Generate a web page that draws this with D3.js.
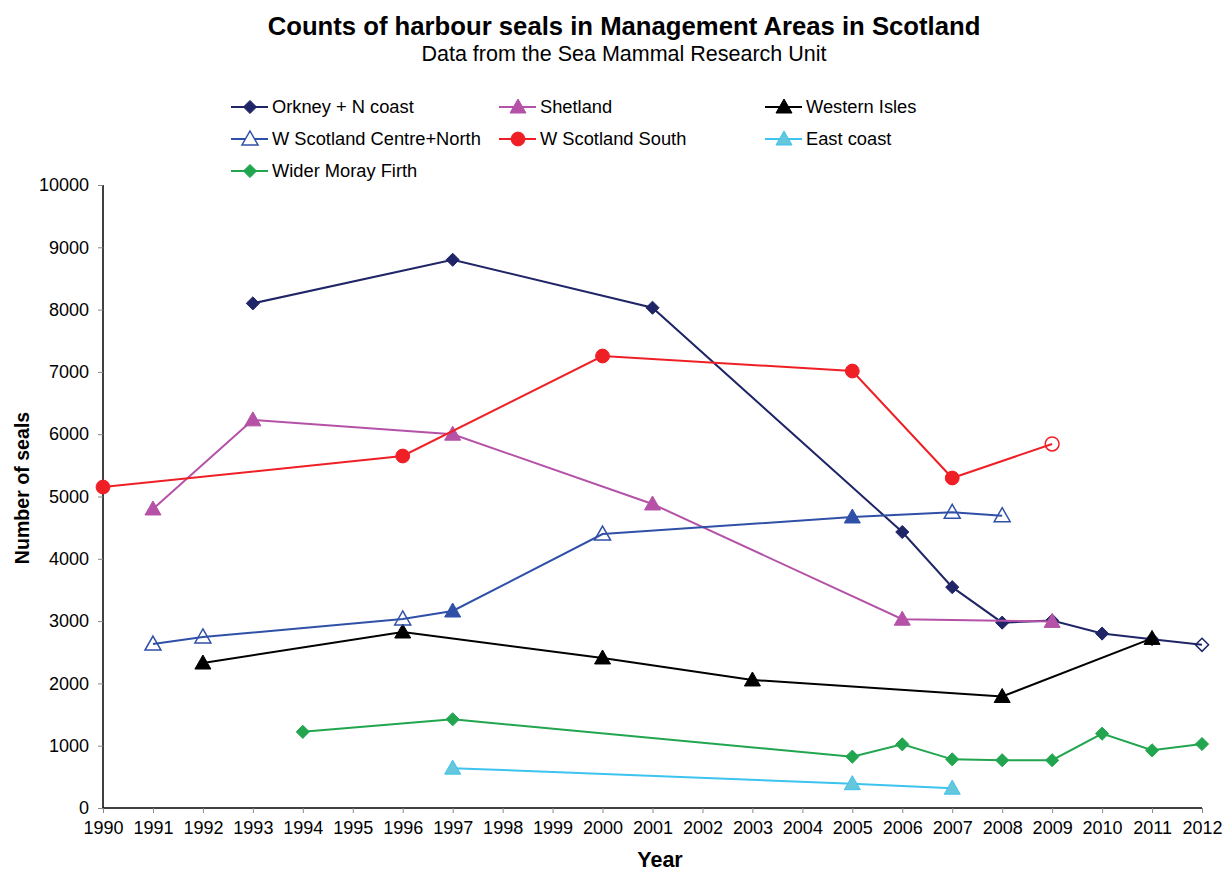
<!DOCTYPE html>
<html><head><meta charset="utf-8">
<script src="https://cdn.jsdelivr.net/npm/d3@7"></script>
<style>body{margin:0;background:#fff;} text{font-family:"Liberation Sans",Arial,sans-serif;}</style>
</head><body><svg id="c" width="1231" height="871"></svg>
<script>
const years = d3.range(1990, 2013);
const yTicks = [0,1000,2000,3000,4000,5000,6000,7000,8000,9000,10000];

const orkneyYears = [1993,1997,2001,2006,2007,2008,2009,2010,2011,2012];
const orkneyVals  = [8100,8800,8030,4430,3545,2975,3010,2800,2710,2620];
const orkneyHollow = [2012];

const shetlandYears = [1991,1993,1997,2001,2006,2009];
const shetlandVals  = [4800,6230,6000,4880,3030,2995];

const westernYears = [1992,1996,2000,2003,2008,2011];
const westernVals  = [2327,2825,2408,2055,1790,2722];

const wcnYears = [1991,1992,1996,1997,2000,2005,2007,2008];
const wcnVals  = [2632,2745,3034,3162,4398,4671,4746,4692];
const wcnFilled = [1997,2005];

const wsYears = [1990,1996,2000,2005,2007,2009];
const wsVals  = [5152,5650,7255,7014,5297,5843];
const wsHollow = [2009];

const eastYears = [1997,2005,2007];
const eastVals  = [640,390,318];

const morayYears = [1994,1997,2005,2006,2007,2008,2009,2010,2011,2012];
const morayVals  = [1222,1424,824,1022,781,767,767,1193,926,1027];

const series = [
  {name:"Orkney + N coast", years:orkneyYears, vals:orkneyVals, color:"#1f2566", fill:"#1f2566", shape:"diamond", hollow:orkneyHollow},
  {name:"Shetland", years:shetlandYears, vals:shetlandVals, color:"#b551a7", fill:"#b551a7", shape:"triangle", hollow:[]},
  {name:"Western Isles", years:westernYears, vals:westernVals, color:"#000000", fill:"#000000", shape:"triangle", hollow:[]},
  {name:"W Scotland Centre+North", years:wcnYears, vals:wcnVals, color:"#3050a8", fill:"#3050a8", shape:"triangle", hollow:wcnYears.filter(y=>!wcnFilled.includes(y)), legendHollow:true},
  {name:"W Scotland South", years:wsYears, vals:wsVals, color:"#ee2026", fill:"#ee2026", shape:"circle", hollow:wsHollow},
  {name:"East coast", years:eastYears, vals:eastVals, color:"#3cc3ee", fill:"#66c6dc", shape:"triangle", hollow:[]},
  {name:"Wider Moray Firth", years:morayYears, vals:morayVals, color:"#22a54f", fill:"#22a54f", shape:"diamond", hollow:[]}
];

const svg = d3.select("#c");
const x = d3.scaleLinear().domain([1990,2012]).range([103,1202]);
const y = d3.scaleLinear().domain([0,10000]).range([808,185]);

svg.append("text").attr("x",624).attr("y",35).attr("text-anchor","middle")
  .attr("font-size",25.7).attr("font-weight","bold").text("Counts of harbour seals in Management Areas in Scotland");
svg.append("text").attr("x",624).attr("y",61).attr("text-anchor","middle")
  .attr("font-size",21.5).text("Data from the Sea Mammal Research Unit");

// axes
const yAxis = svg.append("g").attr("transform","translate(103,0)")
  .call(d3.axisLeft(y).tickValues(yTicks).tickSize(5).tickPadding(9).tickFormat(d3.format("d")));
const xAxis = svg.append("g").attr("transform","translate(0,808)")
  .call(d3.axisBottom(x).tickValues(years).tickSize(5).tickPadding(8).tickFormat(d3.format("d")));
[yAxis,xAxis].forEach(g=>{
  g.select(".domain").attr("stroke","#000").attr("stroke-width",1.5);
  g.selectAll(".tick line").attr("stroke","#888");
  g.selectAll("text").attr("font-size",18).attr("fill","#000").style("font-family","Liberation Sans, Arial, sans-serif");
});
xAxis.select(".domain").attr("d","M103,0H1202");
yAxis.select(".domain").attr("d","M0,185V808");

svg.append("text").attr("x",660).attr("y",867).attr("text-anchor","middle")
  .attr("font-size",21.5).attr("font-weight","bold").text("Year");
svg.append("text").attr("transform","translate(29,488) rotate(-90)").attr("text-anchor","middle")
  .attr("font-size",19.6).attr("font-weight","bold").text("Number of seals");

function symbolPath(shape){
  if(shape==="diamond") return d3.symbol().type(d3.symbolDiamond2).size(110)();
  if(shape==="triangle") return "M0,-8L8,6L-8,6Z";
  return d3.symbol().type(d3.symbolCircle).size(150)();
}

const line = d3.line().x(d=>x(d.yr)).y(d=>y(d.v));
series.forEach(s=>{
  const pts = s.years.map((yr,i)=>({yr, v:s.vals[i]}));
  const g = svg.append("g");
  g.append("path").datum(pts).attr("d",line).attr("fill","none").attr("stroke",s.color).attr("stroke-width",2);
  g.selectAll("path.m").data(pts).enter().append("path").attr("class","m")
    .attr("transform",d=>`translate(${x(d.yr)},${y(d.v)})`)
    .attr("d",symbolPath(s.shape))
    .attr("fill",d=>s.hollow.includes(d.yr)?"none":s.fill)
    .attr("stroke",s.color).attr("stroke-width",d=>s.hollow.includes(d.yr)?1.5:1);
});

// legend
const legCols = [231,499,765];
const legRows = [107,139,171];
series.forEach((s,i)=>{
  const cx = legCols[i%3], cy = legRows[Math.floor(i/3)];
  const g = svg.append("g");
  g.append("line").attr("x1",cx).attr("x2",cx+37).attr("y1",cy).attr("y2",cy).attr("stroke",s.color).attr("stroke-width",2);
  g.append("path").attr("transform",`translate(${cx+19},${cy})`).attr("d",symbolPath(s.shape))
    .attr("fill",s.legendHollow?"#fff":s.fill).attr("stroke",s.color).attr("stroke-width",s.legendHollow?1.5:1);
  g.append("text").attr("x",cx+41).attr("y",cy+6).attr("font-size",18.3).text(s.name);
});
</script></body></html>
